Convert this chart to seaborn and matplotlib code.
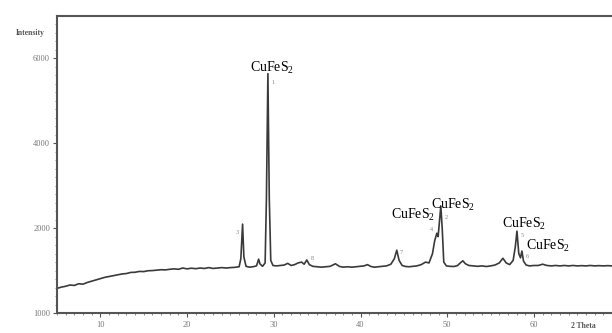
from matplotlib import pyplot as plt
from matplotlib.ticker import FixedLocator, MultipleLocator
import numpy as np
import seaborn as sns
import pandas as pd

# XRD trace (2-theta in degrees, intensity in counts)
two_theta = [
    5.0, 5.5, 6.0, 6.5, 7.0, 7.5, 8.0, 8.5, 9.0, 9.5,
    10.0, 10.5, 11.0, 11.5, 12.0, 12.5, 13.0, 13.5, 14.0, 14.5,
    15.0, 15.5, 16.0, 16.5, 17.0, 17.5, 18.0, 18.5, 19.0, 19.5,
    20.0, 20.5, 21.0, 21.5, 22.0, 22.5, 23.0, 23.5, 24.0, 24.5,
    25.0, 25.5, 26.0, 26.2, 26.4, 26.55, 26.8, 27.2, 27.6, 28.0,
    28.15, 28.25, 28.4, 28.7, 29.0, 29.15, 29.32, 29.48, 29.65, 29.9,
    30.3, 30.8, 31.2, 31.6, 32.0, 32.4, 32.8, 33.2, 33.5, 33.8, 34.1, 34.5,
    35.0, 35.5, 36.0, 36.5, 37.1, 37.6, 38.0, 38.5, 39.0, 39.5,
    40.0, 40.4, 40.8, 41.2, 41.6, 42.0, 42.5, 43.0, 43.5, 43.9,
    44.18, 44.45, 44.8, 45.2, 45.6, 46.0, 46.5, 47.0, 47.5, 47.9,
    48.3, 48.55, 48.8, 48.95, 49.1, 49.26, 49.42, 49.6, 49.9, 50.3,
    50.8, 51.2, 51.5, 51.8, 52.1, 52.5, 53.0, 53.5, 54.0, 54.5,
    55.0, 55.5, 56.0, 56.42, 56.8, 57.2, 57.6, 57.85, 58.04, 58.25,
    58.45, 58.61, 58.8, 59.1, 59.5, 60.0, 60.5, 61.0, 61.5, 62.0,
    62.5, 63.0, 63.5, 64.0, 64.5, 65.0, 65.5, 66.0, 66.5, 67.0,
    67.5, 68.0, 68.5, 69.0,
]
intensity = [
    1290, 1305, 1315, 1330, 1325, 1345, 1340, 1360, 1375, 1390,
    1405, 1420, 1430, 1440, 1450, 1460, 1465, 1478, 1480, 1490,
    1488, 1498, 1500, 1505, 1510, 1508, 1515, 1520, 1515, 1530,
    1520, 1528, 1522, 1530, 1525, 1535, 1525, 1530, 1535, 1530,
    1535, 1538, 1545, 1640, 2095, 1660, 1550, 1540, 1545, 1555,
    1600, 1635, 1580, 1550, 1590, 2700, 5640, 2700, 1620, 1560,
    1555, 1560, 1565, 1585, 1560, 1570, 1590, 1600, 1575, 1625, 1570, 1550,
    1545, 1540, 1545, 1550, 1580, 1548, 1540, 1545, 1540, 1545,
    1550, 1555, 1570, 1548, 1540, 1545, 1550, 1555, 1575, 1640,
    1740, 1620, 1560, 1548, 1545, 1550, 1555, 1570, 1600, 1590,
    1700, 1850, 1940, 1900, 2150, 2520, 2000, 1600, 1555, 1550,
    1548, 1560, 1590, 1615, 1580, 1560, 1555, 1550, 1555, 1548,
    1555, 1565, 1590, 1645, 1590, 1570, 1620, 1780, 1965, 1700,
    1650, 1730, 1610, 1565, 1555, 1560, 1560, 1575, 1560, 1555,
    1560, 1555, 1560, 1555, 1560, 1555, 1558, 1555, 1560, 1555,
    1558, 1555, 1558, 1555,
]

# numbered peaks and the phase labels
peak_no = ["1", "2", "3", "4", "5", "6", "7", "8"]
peak_pos = [29.32, 49.26, 26.4, 48.8, 58.04, 58.61, 44.18, 33.8]
phase_peaks = ["1", "2", "4", "5", "6"]
phase_name = "CuFeS$_2$"

y_ticks = [1000, 2000, 4000, 6000]

df = pd.DataFrame({"two_theta": two_theta, "intensity": intensity})


# the scanned axis is stretched below 2000 counts
def fwd(v):
    v = np.asarray(v, dtype=float)
    return np.where(v < 2000, (v - 1000) / 1000.0, 1 + (v - 2000) / 2000.0)


def inv(u):
    u = np.asarray(u, dtype=float)
    return np.where(u < 1, 1000 + u * 1000.0, 2000 + (u - 1) * 2000.0)


sns.set_style("ticks")
plt.rcParams["font.family"] = ["Liberation Serif", "DejaVu Serif"]
plt.rcParams["mathtext.fontset"] = "custom"
plt.rcParams["mathtext.rm"] = "Liberation Serif"
plt.rcParams["mathtext.it"] = "Liberation Serif:italic"

fig = plt.figure(figsize=(6.12, 3.33), dpi=100)
ax = fig.add_axes([57 / 612, 1 - 313 / 333, 1 - 57 / 612, (313 - 16) / 333])

sns.lineplot(data=df, x="two_theta", y="intensity", ax=ax, color="#3a3a3a",
             linewidth=1.2, estimator=None)

ax.set_yscale("function", functions=(fwd, inv))
ax.set_xlim(5, 69)
ax.set_ylim(1000, 7000)
ax.set_xlabel("")
ax.set_ylabel("")

ax.xaxis.set_major_locator(MultipleLocator(10))
ax.xaxis.set_minor_locator(MultipleLocator(1))
ax.yaxis.set_major_locator(FixedLocator(y_ticks))
ax.yaxis.set_minor_locator(FixedLocator(list(range(1000, 2000, 100)) + list(range(2000, 7000, 200))))
ax.set_yticklabels([str(t) for t in y_ticks])

ax.tick_params(which="major", direction="out", length=3, width=0.8, color="#555555",
               labelsize=6, labelcolor="#777777", pad=2)
ax.tick_params(which="minor", direction="out", length=1.5, width=0.6, color="#777777")
ax.tick_params(axis="x", pad=3)

for side in ["left", "top", "bottom"]:
    ax.spines[side].set_color("#555555")
    ax.spines[side].set_linewidth(1.5)
ax.spines["right"].set_visible(False)

# label positions relative to each peak top, in points
num_off = {"1": (4, -6), "2": (4, -8), "3": (-4, -6), "4": (-4, 3),
           "5": (4, -3), "6": (4, -4), "7": (3, -2), "8": (4, 1)}
phase_off = {"1": (3, 4.5), "2": (9, 1), "4": (-17, 13), "5": (5, 5), "6": (19, 4)}

for n, p in zip(peak_no, peak_pos):
    top = np.interp(p, two_theta, intensity)
    ax.annotate(n, (p, top), xytext=num_off[n], textcoords="offset points",
                ha="center", va="center", fontsize=4.5, color="#888888")
    if n in phase_peaks:
        ax.annotate(phase_name, (p, top), xytext=phase_off[n], textcoords="offset points",
                    ha="center", va="center", fontsize=10, color="black")

fig.text(30 / 612, 1 - 33 / 333, "Intensity", ha="center", va="center",
         fontsize=5.5, fontweight="bold", color="#555555")
fig.text(583 / 612, 1 - 326 / 333, "2 Theta", ha="center", va="center",
         fontsize=5.5, fontweight="bold", color="#555555")

fig.savefig("out.png", dpi=100, facecolor="white")
